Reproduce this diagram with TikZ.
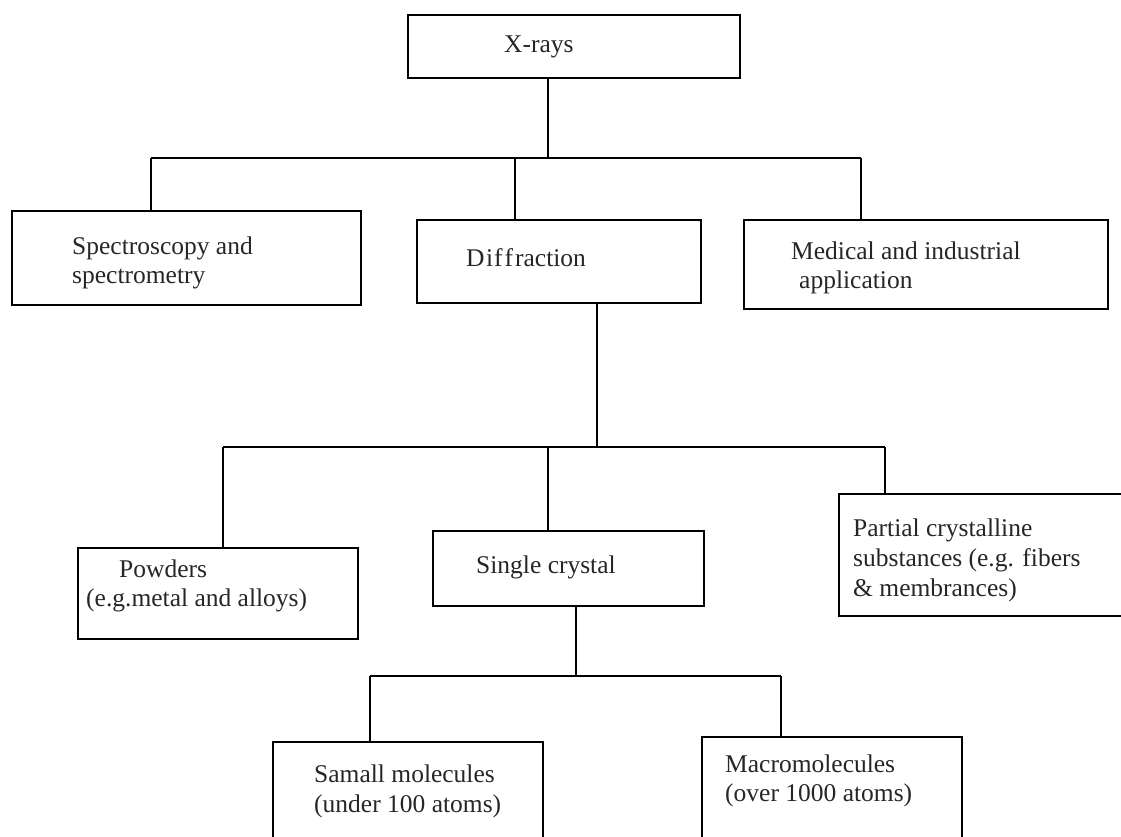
\documentclass[tikz,border=0pt]{standalone}
\usepackage{fontspec}
\setmainfont{Liberation Serif}
\begin{document}
\begin{tikzpicture}[x=1pt,y=-1pt,
  boxnode/.style={draw=black, line width=2pt, rectangle, anchor=north west, inner sep=0pt},
  txt/.style={anchor=base west, inner sep=0pt, font=\fontsize{25.5}{30}\selectfont, text=black!85},
  conn/.style={draw=black, line width=2pt}]
\useasboundingbox (0,0) rectangle (1121,837);
\clip (0,0) rectangle (1121,837);
% boxes
\node[boxnode, minimum width=332pt, minimum height=63pt] (xr) at (407,14) {};
\node[boxnode, minimum width=349pt, minimum height=94pt] (spec) at (11,210) {};
\node[boxnode, minimum width=284pt, minimum height=83pt] (diff) at (416,219) {};
\node[boxnode, minimum width=364pt, minimum height=89pt] (med) at (743,219) {};
\node[boxnode, minimum width=280pt, minimum height=91pt] (pow) at (77,547) {};
\node[boxnode, minimum width=271pt, minimum height=75pt] (single) at (432,530) {};
\node[boxnode, minimum width=300pt, minimum height=122pt] (part) at (838,493) {};
\node[boxnode, minimum width=270pt, minimum height=130pt] (small) at (272,741) {};
\node[boxnode, minimum width=260pt, minimum height=135pt] (macro) at (701,736) {};
% texts
\node[txt] (t1) at (504,53) {X-rays};
\node[txt] (t2a) at (72,254) {Spectroscopy and};
\node[txt] (t2b) at (72,283) {spectrometry};
\node[txt] (t3) at (466,266) {D\kern1.5pt i\kern1pt f\kern2pt f\kern2pt raction};
\node[txt] (t4a) at (791,259) {Medical and industrial};
\node[txt] (t4b) at (799,288) {application};
\node[txt] (t5a) at (119,577) {Powders};
\node[txt] (t5b) at (86,606) {(e.g.metal and alloys)};
\node[txt] (t6) at (476,573) {Single crystal};
\node[txt] (t7a) at (853,536) {Partial crystalline};
\node[txt] (t7b) at (853,566) {substances (e.g. fibers};
\node[txt] (t7c) at (853,596) {\& membrances)};
\node[txt] (t8a) at (314,782) {Samall molecules};
\node[txt] (t8b) at (314,812) {(under 100 atoms)};
\node[txt] (t9a) at (725,772) {Macromolecules};
\node[txt] (t9b) at (725,801) {(over 1000 atoms)};
% level 1 connectors
\coordinate (j1) at (548,158);
\coordinate (a1) at (151,158);
\coordinate (b1) at (515,158);
\coordinate (c1) at (861,158);
\draw[conn] (j1 |- xr.south) -- (j1);
\draw[conn] (a1) -- (c1);
\draw[conn] (a1) -- (a1 |- spec.north);
\draw[conn] (b1) -- (b1 |- diff.north);
\draw[conn] (c1) -- (c1 |- med.north);
% level 2 connectors
\coordinate (j2) at (597,447);
\coordinate (a2) at (223,447);
\coordinate (b2) at (548,447);
\coordinate (c2) at (885,447);
\draw[conn] (j2 |- diff.south) -- (j2);
\draw[conn] (a2) -- (c2);
\draw[conn] (a2) -- (a2 |- pow.north);
\draw[conn] (b2) -- (b2 |- single.north);
\draw[conn] (c2) -- (c2 |- part.north);
% level 3 connectors
\coordinate (j3) at (576,676);
\coordinate (a3) at (370,676);
\coordinate (b3) at (781,676);
\draw[conn] (j3 |- single.south) -- (j3);
\draw[conn] (a3) -- (b3);
\draw[conn] (a3) -- (a3 |- small.north);
\draw[conn] (b3) -- (b3 |- macro.north);
\end{tikzpicture}
\end{document}
